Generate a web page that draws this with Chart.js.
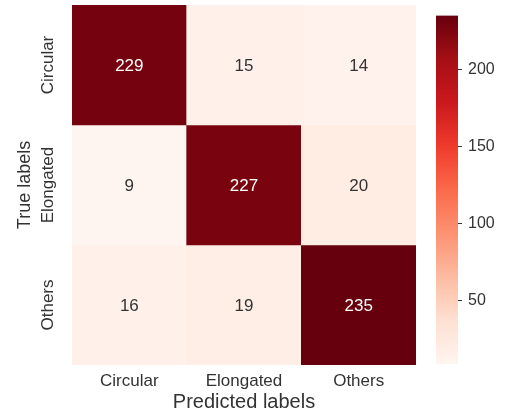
<!DOCTYPE html>
<html>
<head>
<meta charset="utf-8">
<script src="https://cdn.jsdelivr.net/npm/chart.js@4/dist/chart.umd.min.js"></script>
<style>
  html, body { margin: 0; padding: 0; background: #ffffff; }
  #wrap { position: relative; width: 509px; height: 415px; }
  #heat { position: absolute; left: 0; top: 0; }
  #cbar { position: absolute; left: 420px; top: 0; }
</style>
</head>
<body>
<div id="wrap">
  <canvas id="heat" width="509" height="415"></canvas>
  <canvas id="cbar" width="89" height="415"></canvas>
</div>
<script>
// Confusion matrix: rows = true class, columns = predicted class
const predLabels = ['Circular', 'Elongated', 'Others'];
const trueLabels = ['Circular', 'Elongated', 'Others'];
const rowCircular = [229, 15, 14];
const rowElongated = [9, 227, 20];
const rowOthers = [16, 19, 235];
const counts = [rowCircular, rowElongated, rowOthers];
const colorbarTicks = [50, 100, 150, 200];

const FONT = "'Liberation Sans', Arial, sans-serif";
const TEXT = '#333333';

// ColorBrewer "Reds" (matplotlib Reds colormap anchors)
const REDS = ['#fff5f0', '#fee0d2', '#fcbba1', '#fc9272', '#fb6a4a',
              '#ef3b2c', '#cb181d', '#a50f15', '#67000d'];

const allValues = counts.flat();
const vMin = Math.min(...allValues);
const vMax = Math.max(...allValues);

function hexToRgb(h) {
  const n = parseInt(h.slice(1), 16);
  return [(n >> 16) & 255, (n >> 8) & 255, n & 255];
}
function redsAt(t) {
  t = Math.max(0, Math.min(1, t));
  const seg = t * (REDS.length - 1);
  const i = Math.min(Math.floor(seg), REDS.length - 2);
  const f = seg - i;
  const a = hexToRgb(REDS[i]), b = hexToRgb(REDS[i + 1]);
  return a.map((c, k) => Math.round(c + (b[k] - c) * f));
}
function colorFor(v) {
  const [r, g, b] = redsAt((v - vMin) / (vMax - vMin));
  return `rgb(${r},${g},${b})`;
}
function isDark(v) {
  const lin = redsAt((v - vMin) / (vMax - vMin)).map(c => {
    c /= 255;
    return c <= 0.03928 ? c / 12.92 : Math.pow((c + 0.055) / 1.055, 2.4);
  });
  const lum = 0.2126 * lin[0] + 0.7152 * lin[1] + 0.0722 * lin[2];
  return lum <= 0.408;
}

// One floating-bar dataset per true-label row; each bar spans its row band
const datasets = trueLabels.map((name, i) => ({
  label: name,
  counts: counts[i],
  data: counts[i].map(() => [i, i + 1]),
  backgroundColor: counts[i].map(colorFor),
  borderWidth: 0,
  grouped: false,
  barPercentage: 1,
  categoryPercentage: 1
}));

// Cell value annotations and rotated row labels
const heatText = {
  id: 'heatText',
  afterDatasetsDraw(chart) {
    const ctx = chart.ctx;
    ctx.save();
    ctx.font = `17px ${FONT}`;
    ctx.textAlign = 'center';
    ctx.textBaseline = 'middle';
    chart.data.datasets.forEach((ds, di) => {
      chart.getDatasetMeta(di).data.forEach((bar, j) => {
        const v = ds.counts[j];
        const p = bar.getProps(['x', 'y', 'base'], true);
        ctx.fillStyle = isDark(v) ? '#ffffff' : TEXT;
        ctx.fillText(String(v), p.x, (p.y + p.base) / 2 + 1);
      });
    });
    ctx.restore();
  },
  afterDraw(chart) {
    const ctx = chart.ctx;
    const ys = chart.scales.y;
    ctx.save();
    ctx.font = `17px ${FONT}`;
    ctx.fillStyle = TEXT;
    ctx.textAlign = 'center';
    ctx.textBaseline = 'middle';
    trueLabels.forEach((lab, i) => {
      ctx.save();
      ctx.translate(48, ys.getPixelForValue(i + 0.5));
      ctx.rotate(-Math.PI / 2);
      ctx.fillText(lab, 0, 0);
      ctx.restore();
    });
    ctx.restore();
  }
};

new Chart(document.getElementById('heat'), {
  type: 'bar',
  data: { labels: predLabels, datasets },
  options: {
    responsive: false,
    animation: false,
    devicePixelRatio: 1,
    layout: { padding: { top: 5, right: 93, bottom: 0, left: 0 } },
    plugins: { legend: { display: false }, tooltip: { enabled: false } },
    scales: {
      x: {
        type: 'category',
        grid: { display: false, drawTicks: false },
        border: { display: false },
        ticks: { color: TEXT, font: { family: FONT, size: 17 }, padding: 6, maxRotation: 0 },
        title: {
          display: true, text: 'Predicted labels', color: TEXT,
          font: { family: FONT, size: 20 }, padding: { top: 0, bottom: 1 }
        },
        afterFit(scale) { scale.height = 50; }
      },
      y: {
        type: 'linear', min: 0, max: 3, reverse: true,
        grid: { display: false, drawTicks: false },
        border: { display: false },
        ticks: { display: false },
        title: {
          display: true, text: 'True labels', color: TEXT,
          font: { family: FONT, size: 18 }, padding: { top: 14, bottom: 0 }
        },
        afterFit(scale) { scale.width = 72; }
      }
    }
  },
  plugins: [heatText]
});

// Colour bar: a single floating bar spanning the data range, filled with the colormap
new Chart(document.getElementById('cbar'), {
  type: 'bar',
  data: {
    labels: [''],
    datasets: [{
      data: [[vMin, vMax]],
      borderWidth: 0,
      barPercentage: 1,
      categoryPercentage: 1,
      backgroundColor(ctx) {
        const chart = ctx.chart;
        const ys = chart.scales.y;
        if (!ys || !chart.chartArea) return REDS[4];
        const y0 = ys.getPixelForValue(vMin);
        const y1 = ys.getPixelForValue(vMax);
        if (!isFinite(y0) || !isFinite(y1)) return REDS[4];
        const g = chart.ctx.createLinearGradient(0, y0, 0, y1);
        REDS.forEach((c, i) => g.addColorStop(i / (REDS.length - 1), c));
        return g;
      }
    }]
  },
  options: {
    responsive: false,
    animation: false,
    devicePixelRatio: 1,
    layout: { padding: { top: 5, right: 0, bottom: 51, left: 16 } },
    plugins: { legend: { display: false }, tooltip: { enabled: false } },
    scales: {
      x: { display: false },
      y: {
        position: 'right',
        min: vMin, max: vMax,
        afterBuildTicks(scale) { scale.ticks = colorbarTicks.map(v => ({ value: v })); },
        grid: { drawOnChartArea: false, drawTicks: true, tickLength: 4, color: TEXT, lineWidth: 1 },
        border: { display: false },
        ticks: { color: TEXT, font: { family: FONT, size: 16 }, padding: 6 },
        afterFit(scale) { scale.width = 51; }
      }
    }
  }
});
</script>
</body>
</html>
